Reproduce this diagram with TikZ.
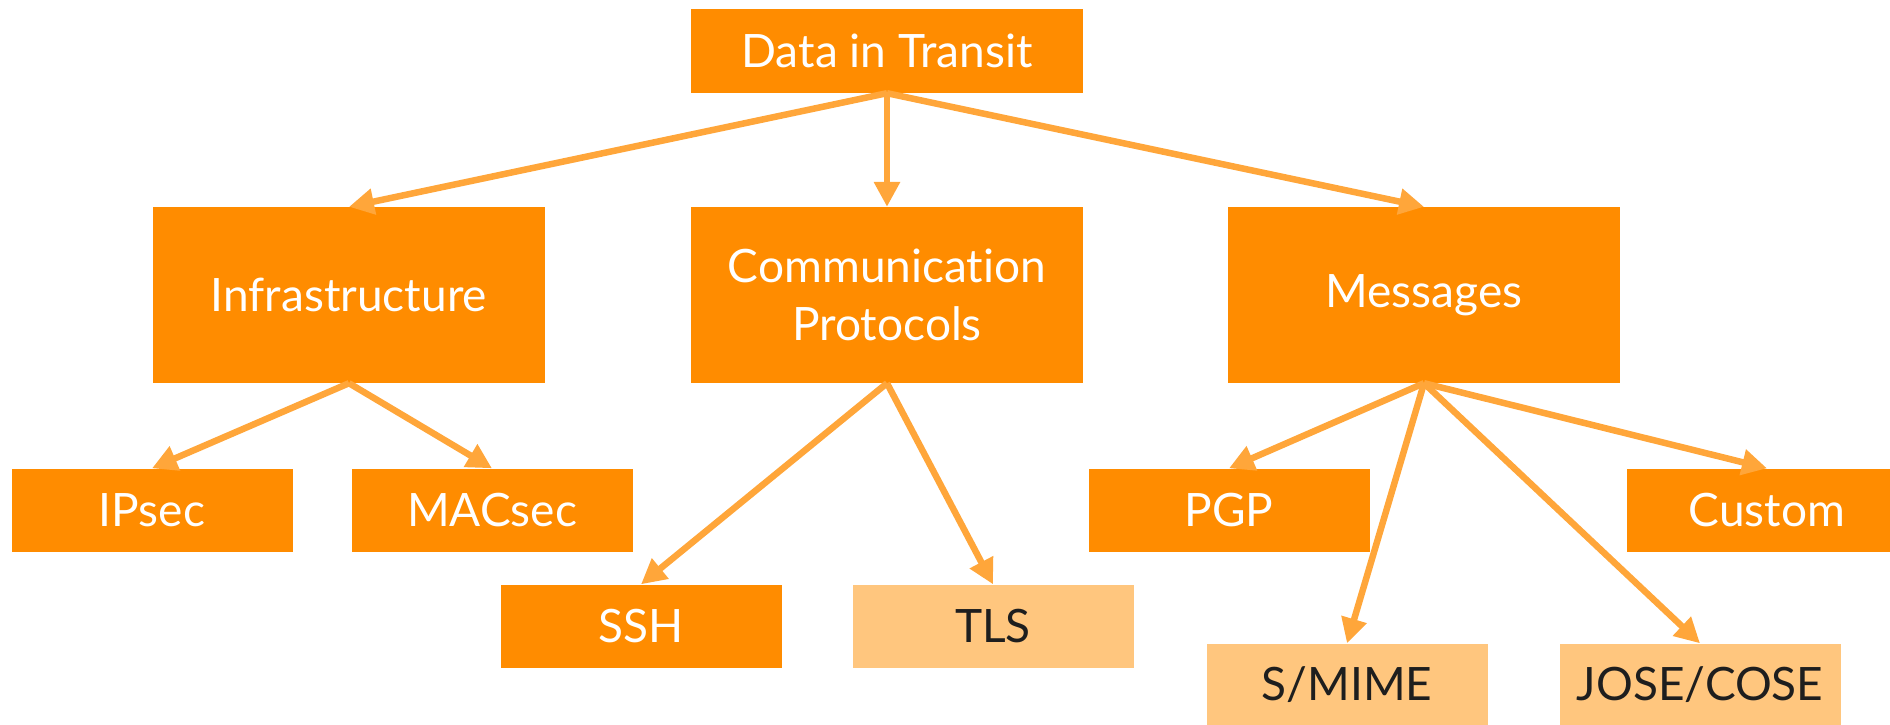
\documentclass[tikz,border=0pt]{standalone}
\usepackage{fontspec}
\setmainfont{Lato}[Ligatures={NoCommon}]
\usetikzlibrary{arrows.meta}
\definecolor{boxdark}{RGB}{255,140,0}
\definecolor{boxlight}{RGB}{255,198,126}
\definecolor{linkcol}{RGB}{255,166,58}
\definecolor{inkdark}{RGB}{30,30,30}
\tikzset{
  base/.style={rectangle, inner sep=0pt, align=center, font=\fontsize{46}{58}\selectfont},
  darkbox/.style={base, fill=boxdark, text=white},
  lightbox/.style={base, fill=boxlight, text=inkdark},
  wide/.style={minimum width=392pt, minimum height=176pt},
  topbox/.style={minimum width=392pt, minimum height=84pt},
  leaf/.style={minimum width=281pt, minimum height=83pt},
  link/.style={draw=linkcol, line width=6.5pt, -{Triangle[length=25pt,width=25pt]}},
}
\begin{document}
\begin{tikzpicture}[x=1pt,y=-1pt]
\useasboundingbox (0,0) rectangle (1890,724);
\clip (0,0) rectangle (1890,724);
% root
\node[darkbox, topbox] (root) at (887,51) {Data in Transit};
% second level
\node[darkbox, wide] (infra) at (349,295) {Infrastructure};
\node[darkbox, wide] (comm) at (887,295) {Communication\\Protocols};
\node[darkbox, wide] (msg) at (1424,295) {Messages};
% leaves
\node[darkbox, leaf] (ipsec) at (152,510) {IPsec};
\node[darkbox, leaf] (macsec) at (492,510) {MACsec};
\node[darkbox, leaf] (ssh) at (641,626) {SSH};
\node[lightbox, leaf] (tls) at (993,626) {TLS};
\node[darkbox, leaf] (pgp) at (1229,510) {PGP};
\node[darkbox, leaf] (custom) at (1767,510) {Custom};
\node[lightbox, leaf] (smime) at (1347,685) {S/MIME};
\node[lightbox, leaf] (jose) at (1700,685) {JOSE/COSE};
% connectors
\draw[link] (root.south) -- (infra.north);
\draw[link] (root.south) -- (comm.north);
\draw[link] (root.south) -- (msg.north);
\draw[link] (infra.south) -- (ipsec.north);
\draw[link] (infra.south) -- (macsec.north);
\draw[link] (comm.south) -- (ssh.north);
\draw[link] (comm.south) -- (tls.north);
\draw[link] (msg.south) -- (pgp.north);
\draw[link] (msg.south) -- (smime.north);
\draw[link] (msg.south) -- (jose.north);
\draw[link] (msg.south) -- (custom.north);
\end{tikzpicture}
\end{document}
